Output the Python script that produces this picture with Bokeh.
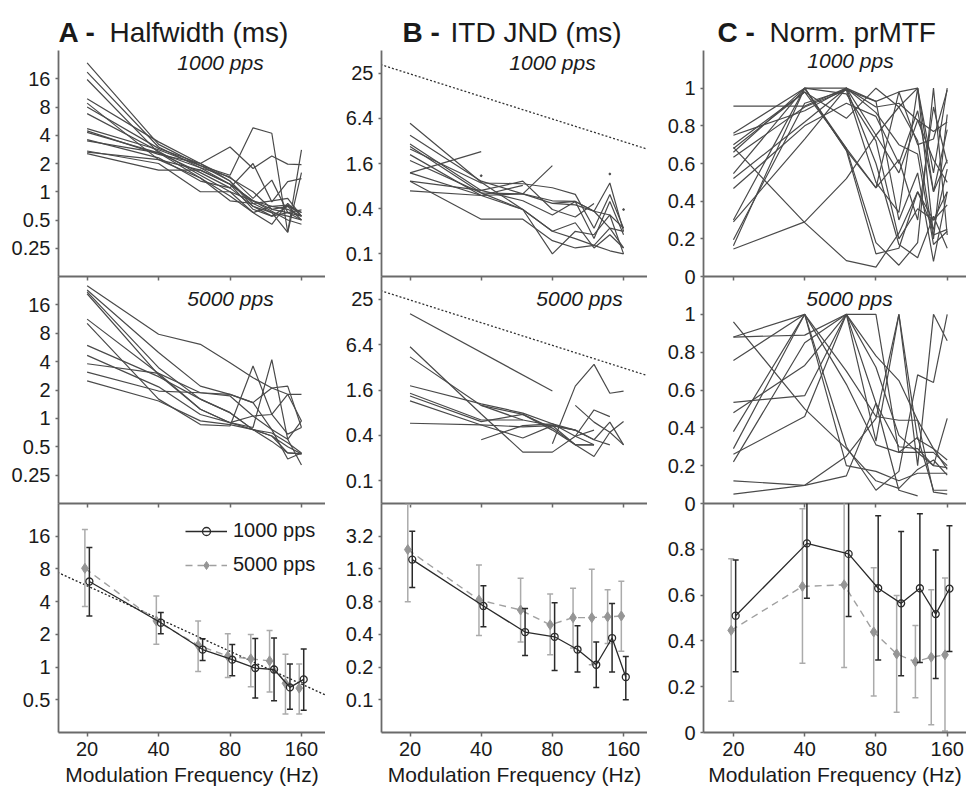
from bokeh.plotting import figure
from bokeh.models import FixedTicker, Range1d, Label, Legend, LegendItem, CustomLabelingPolicy
from bokeh.layouts import column, row
from bokeh.embed import file_html
from bokeh.resources import INLINE
from bokeh.core.properties import value

FONT = "Liberation Sans"
TXT = "#1a1a1a"
AXC = "#6a6a6a"
LINEC = "#4a4a4a"

# ---------------- data ----------------
freqs = [20, 40, 60, 80, 100, 120, 140, 160]
x_ticks = [20, 40, 80, 160]

hw_ticks = [0.25, 0.5, 1, 2, 4, 8, 16]
hw_ticks_bottom = [0.5, 1, 2, 4, 8, 16]
itd_ticks = [0.1, 0.4, 1.6, 6.4, 25.6]
itd_labels = ["0.1", "0.4", "1.6", "6.4", "25"]
itd_ticks_bottom = [0.1, 0.2, 0.4, 0.8, 1.6, 3.2]
mtf_ticks = [0, 0.2, 0.4, 0.6, 0.8, 1]
mtf_ticks_bottom = [0, 0.2, 0.4, 0.6, 0.8]

# individual listeners, halfwidth, 1000 pps
A1_lines = [
    [23.6, 3.2, 1.9, 1.3, 0.75, 0.6, 0.55, 0.5],
    [18.8, 3.0, 1.8, 1.2, 0.8, 0.65, 0.6, 0.55],
    [15.7, 2.6, 1.6, 1.1, 0.7, 0.6, 0.37, 2.8],
    [9.8, 3.4, 2.0, 1.4, 1.0, 0.65, 0.7, 0.6],
    [8.8, 2.2, 1.7, 1.2, 0.8, 0.62, 0.5, 0.45],
    [8.0, 2.9, 2.0, 1.3, 0.7, 0.55, 0.7, 0.5],
    [6.8, 2.7, 1.5, 1.0, 0.6, 0.45, 0.75, 0.55],
    [4.7, 2.8, 1.9, 1.5, 4.8, 4.2, 0.37, 1.6],
    [4.45, 2.5, 2.0, 3.0, 1.77, 2.4, 1.97, 1.95],
    [3.6, 2.3, 1.3, 1.1, 2.0, 0.78, 1.28, 1.38],
    [3.48, 2.6, 1.8, 1.44, 0.85, 1.33, 0.6, 0.64],
    [2.72, 2.0, 1.0, 1.0, 0.8, 0.7, 0.65, 0.55],
    [2.55, 1.7, 1.7, 1.2, 0.65, 0.55, 0.6, 0.5],
    [2.65, 2.2, 1.4, 0.9, 0.6, 0.7, 0.72, 0.6],
    [4.3, 2.6, 1.4, 0.8, 0.75, 0.8, 0.85, 0.55],
]
# halfwidth, 5000 pps
A2_lines = [
    [25.5, 7.8, 6.1, 3.9, 2.7, 2.1, 1.8, 1.8],
    [23.0, 5.0, 2.2, 1.8, 1.47, 2.1, 2.2, 0.8],
    [22.0, 3.45, 1.6, 1.15, 0.76, 0.57, 0.43, 0.42],
    [21.0, 2.9, 1.25, 0.9, 0.8, 4.2, 0.6, 0.94],
    [11.3, 3.0, 1.87, 1.73, 1.06, 0.76, 0.37, 0.43],
    [10.2, 1.6, 0.86, 0.83, 3.6, 1.1, 0.68, 0.8],
    [5.95, 2.77, 1.6, 1.15, 0.76, 0.65, 0.43, 0.42],
    [4.66, 2.16, 1.1, 0.9, 1.06, 1.1, 1.8, 0.94],
    [3.8, 3.0, 1.25, 0.9, 0.76, 0.65, 0.5, 0.42],
    [3.1, 1.95, 1.87, 1.8, 1.47, 0.76, 0.6, 0.32],
    [2.5, 1.53, 0.94, 0.86, 0.76, 0.7, 0.55, 0.43],
]
# ITD JND, 1000 pps
B1_lines = [
    [5.5, 0.9, 0.39, 0.2, 0.16, 0.13, 0.22, 0.12],
    [3.8, 0.93, 0.63, 0.47, 0.45, 0.37, 0.88, 0.2],
    [2.9, 0.7, 0.51, 0.33, 0.5, 0.16, 0.5, 0.18],
    [2.7, 0.65, 0.39, 0.1, 0.2, 0.18, 0.33, 0.1],
    [2.5, 0.88, 0.86, 0.76, 0.62, 0.22, 0.62, 0.22],
    [2.1, 0.6, 0.39, 0.2, 0.26, 0.12, 0.18, 0.12],
    [1.75, 0.65, 0.63, 0.51, 0.5, 0.37, 0.22, 0.2],
    [1.2, 2.3, None, None, None, None, None, None],
    [1.2, 0.6, 0.82, None, None, None, None, None],
    [0.93, 0.7, 0.93, 0.39, 0.31, 0.47, None, None],
    [0.69, 0.6, 0.63, 1.5, None, None, None, None],
    [0.93, 0.29, 0.29, 0.15, 0.12, 0.13, 0.11, 0.1],
    [None, None, None, 0.47, 0.5, 0.37, 0.33, 0.22],
]
B1_dots_x = [40, 140, 160]
B1_dots_y = [1.1, 1.16, 0.39]
# ITD JND, 5000 pps
B2_lines = [
    [16.4, None, None, 1.55, None, None, None, None],
    [6.0, 0.77, 0.24, 0.24, 0.39, 0.47, None, None],
    [4.4, 1.0, 0.76, 0.5, 0.3, 0.3, None, None],
    [1.82, 1.05, 0.79, 0.57, 0.39, 0.3, None, None],
    [1.45, 0.64, 0.64, 0.54, 0.47, 0.35, 0.3, None],
    [1.33, 0.61, 0.76, 0.47, 0.3, 0.21, 0.44, 0.61],
    [1.15, 0.55, 0.52, 0.54, 0.3, 0.3, None, None],
    [0.58, 0.55, 0.37, 0.54, 0.47, 0.35, 0.6, 0.3],
    [None, 0.35, 0.54, 0.57, 0.47, None, None, None],
    [None, 1.0, 0.64, None, None, None, None, None],
    [None, None, None, 0.31, 1.8, 3.5, 1.45, 1.55],
    [None, None, None, None, 1.0, 0.6, 0.44, 0.3],
    [None, None, None, None, 0.39, 0.87, 0.71, None],
]
# normalised prMTF, 1000 pps
C1_lines = [
    [0.905, 0.905, 1.0, 0.9, 0.92, 0.83, 0.62, 0.5],
    [0.76, 1.0, 0.67, 0.47, 0.62, 0.3, 0.9, 0.6],
    [0.75, 0.88, 1.0, 0.93, 0.98, 1.0, 0.55, 1.0],
    [0.70, 0.98, 0.84, 1.0, 0.9, 0.72, 0.2, 0.86],
    [0.686, 0.286, 0.084, 0.05, 0.23, 0.45, 0.3, 0.45],
    [0.66, 1.0, 1.0, 0.6, 0.17, 0.1, 0.32, 0.15],
    [0.633, 0.9, 0.99, 0.93, 0.3, 0.55, 0.08, 0.45],
    [0.546, 1.0, 0.67, 0.12, 0.15, 0.45, 0.25, 0.57],
    [0.52, 0.82, 1.0, 0.75, 0.55, 0.83, 0.77, 0.82],
    [0.467, 0.8, 0.92, 0.85, 0.6, 0.88, 0.45, 0.78],
    [0.3, 1.0, 0.97, 0.72, 0.2, 0.36, 0.3, 0.38],
    [0.195, 0.92, 0.99, 0.5, 0.34, 1.0, 0.22, 0.25],
    [0.163, 1.0, 0.68, 0.18, 0.06, 0.18, 1.0, 0.22],
    [0.146, 0.29, 0.52, 0.75, 0.9, 1.0, 0.45, 0.62],
    [0.68, 0.98, 0.68, 0.47, 0.98, 0.7, 0.73, 0.99],
    [0.29, 0.73, 1.0, 0.87, 0.7, 0.65, 0.17, 0.24],
]
# normalised prMTF, 5000 pps
C2_lines = [
    [0.96, 0.5, 0.29, 0.12, 0.08, 0.18, 0.23, 0.15],
    [0.88, 0.89, 1.0, 0.78, 0.65, 0.44, 0.29, 0.18],
    [0.756, 1.0, 0.2, 0.17, 0.12, 0.16, 0.16, 0.16],
    [0.535, 0.57, 1.0, 0.72, 0.36, 0.27, 0.27, 0.2],
    [0.48, 0.73, 1.0, 1.0, 0.27, 0.35, 0.07, 0.07],
    [0.38, 1.0, 0.3, 0.07, 0.17, 0.68, 0.64, 1.0],
    [0.29, 1.0, 0.7, 0.46, 0.44, 0.44, 0.06, 0.05],
    [0.26, 0.46, 1.0, 0.33, 1.0, 0.34, 0.29, 0.23],
    [0.22, 0.85, 1.0, 0.53, 0.07, 0.04, None, None],
    [0.12, 0.096, 0.146, 0.53, 0.3, 0.29, 0.2, 0.19],
    [0.05, 0.096, 0.25, 0.45, 1.0, 0.2, 1.0, 0.86],
    [0.88, 1.0, 0.63, 0.31, 0.27, 0.27, 0.2, 0.45],
]

# group means with error bars
A3_1000 = [6.13, 2.56, 1.45, 1.17, 0.98, 0.95, 0.65, 0.77]
A3_1000_hi = [12.6, 3.17, 1.82, 1.61, 1.83, 1.85, 1.07, 1.47]
A3_1000_lo = [2.95, 2.03, 1.15, 0.83, 0.52, 0.49, 0.41, 0.40]
A3_5000 = [8.1, 2.66, 1.59, 1.26, 1.19, 1.14, 0.71, 0.64]
A3_5000_hi = [18.4, 4.5, 2.66, 2.03, 1.99, 2.17, 1.31, 1.07]
A3_5000_lo = [3.6, 1.62, 0.91, 0.80, 0.66, 0.59, 0.37, 0.37]

B3_1000 = [1.95, 0.73, 0.42, 0.38, 0.29, 0.21, 0.37, 0.162]
B3_1000_hi = [3.56, 1.12, 0.69, 0.78, 0.48, 0.34, 0.77, 0.25]
B3_1000_lo = [1.08, 0.47, 0.256, 0.186, 0.18, 0.13, 0.18, 0.10]
B3_5000 = [2.41, 0.83, 0.67, 0.49, 0.57, 0.57, 0.58, 0.59]
B3_5000_hi = [6.3, 1.74, 1.31, 0.94, 1.06, 1.59, 1.03, 1.23]
B3_5000_lo = [0.8, 0.39, 0.34, 0.26, 0.30, 0.21, 0.33, 0.28]

C3_1000 = [0.51, 0.826, 0.78, 0.63, 0.564, 0.63, 0.517, 0.628]
C3_1000_hi = [0.753, 1.05, 1.05, 0.947, 0.878, 0.955, 0.797, 0.903]
C3_1000_lo = [0.265, 0.586, 0.507, 0.317, 0.248, 0.306, 0.236, 0.354]
C3_5000 = [0.446, 0.638, 0.645, 0.439, 0.343, 0.309, 0.329, 0.339]
C3_5000_hi = [0.759, 0.977, 1.05, 0.719, 0.598, 0.467, 0.623, 0.675]
C3_5000_lo = [0.137, 0.302, 0.284, 0.159, 0.088, 0.152, 0.034, 0.007]

# reference (dotted) lines
A_ref_x = [15.0, 202.0]
A_ref_y = [7.45, 0.553]
B_ref_x = [15.0, 202.0]
B_ref_y = [33.3, 2.48]

# ---------------- helpers ----------------
XR_AB = (15.15, 202.0)
XR_C = (14.95, 193.0)

HIDE_LABELS = """
if (indices != null && typeof indices.unset === "function") {
    for (const i of Array.from(indices)) { indices.unset(i) }
    return indices
}
return []
"""


def ov(ticks, labels=None):
    out = {}
    for i, t in enumerate(ticks):
        k = int(t) if float(t).is_integer() else float(t)
        if labels is not None:
            out[k] = labels[i]
        else:
            out[k] = str(int(t)) if float(t).is_integer() else str(t)
    return out


def style_axis(ax, tick_out):
    ax.axis_line_color = AXC
    ax.axis_line_width = 1.8
    ax.major_tick_line_color = AXC
    ax.major_tick_line_width = 1.5
    ax.minor_tick_line_color = None
    ax.major_tick_in = 0
    ax.major_tick_out = tick_out
    ax.major_label_text_font = FONT
    ax.major_label_text_font_size = "20px"
    ax.major_label_text_color = TXT


def make_fig(xr, y_type, yr, yticks, ylabels, fw, bl, fh, bb, bottom_labels):
    p = figure(frame_width=fw, frame_height=fh, x_axis_type="log", y_axis_type=y_type,
               x_range=Range1d(*xr), y_range=Range1d(*yr), output_backend="svg",
               toolbar_location=None, min_border_left=bl, min_border_right=0,
               min_border_top=0, min_border_bottom=bb)
    p.border_fill_color = None
    p.background_fill_color = None
    p.outline_line_color = None
    p.xgrid.visible = False
    p.ygrid.visible = False
    xa = p.xaxis[0]
    style_axis(xa, 4)
    xa.ticker = FixedTicker(ticks=x_ticks)
    if bottom_labels:
        xa.major_label_overrides = ov(x_ticks)
        xa.major_label_standoff = 5
        xa.axis_label = "Modulation Frequency (Hz)"
        xa.axis_label_text_font = FONT
        xa.axis_label_text_font_size = "21px"
        xa.axis_label_text_font_style = "normal"
        xa.axis_label_text_color = TXT
        xa.axis_label_standoff = 4
    else:
        xa.major_label_text_font_size = "0px"
        xa.major_label_standoff = 0
        xa.major_label_policy = CustomLabelingPolicy(code=HIDE_LABELS)
    ya = p.yaxis[0]
    style_axis(ya, 3)
    ya.major_label_standoff = 5
    ya.ticker = FixedTicker(ticks=yticks)
    ya.major_label_overrides = ov(yticks, ylabels)
    return p


def draw_lines(p, lines):
    xs, ys = [], []
    for ln in lines:
        px = [f for f, v in zip(freqs, ln) if v is not None]
        py = [v for v in ln if v is not None]
        xs.append(px)
        ys.append(py)
    p.multi_line(xs=xs, ys=ys, line_color=LINEC, line_width=1.2)


def panel_label(p, text, x, y):
    p.add_layout(Label(x=x, y=y, x_units="screen", y_units="screen", text=text,
                       text_font=FONT, text_font_size="21px", text_font_style="italic",
                       text_color=TXT, text_align="center", text_baseline="middle"))


def draw_means(p, m1, lo1, hi1, m5, lo5, hi5):
    x1 = [f * 1.022 for f in freqs]
    x5 = [f / 1.022 for f in freqs]
    g_bar = "#ababab"
    g_mk = "#959595"
    k = "#2a2a2a"
    # 5000 pps (grey)
    p.segment(x0=x5, y0=lo5, x1=x5, y1=hi5, line_color=g_bar, line_width=1.5)
    p.scatter(x=x5 + x5, y=lo5 + hi5, marker="dash", size=6, line_color=g_bar, line_width=1.5)
    l5 = p.line(x5, m5, line_color="#a0a0a0", line_width=1.4, line_dash="7 5")
    s5 = p.scatter(x5, m5, marker="diamond", size=10, fill_color=g_mk, line_color=g_mk)
    # 1000 pps (black)
    p.segment(x0=x1, y0=lo1, x1=x1, y1=hi1, line_color=k, line_width=1.5)
    p.scatter(x=x1 + x1, y=lo1 + hi1, marker="dash", size=6, line_color=k, line_width=1.5)
    l1 = p.line(x1, m1, line_color=k, line_width=1.3)
    s1 = p.scatter(x1, m1, marker="circle", size=7, fill_alpha=0, line_color=k, line_width=1.3)
    return (l1, s1), (l5, s5)


# ---------------- geometry ----------------
FW = [267, 266, 263]
BL = [58, 56, 56]
FH = [226, 227, 229]
BB = [12, 12, 61]

# row 1
a1 = make_fig(XR_AB, "log", (0.125, 32), hw_ticks, None, FW[0], BL[0], FH[0], BB[0], False)
draw_lines(a1, A1_lines)
panel_label(a1, "1000 pps", 162, 214)

b1 = make_fig(XR_AB, "log", (0.05, 51.2), itd_ticks, itd_labels, FW[1], BL[1], FH[0], BB[0], False)
b1.line(B_ref_x, B_ref_y, line_color="#333333", line_width=1.3, line_dash="2 2")
draw_lines(b1, B1_lines)
b1.scatter(B1_dots_x, B1_dots_y, size=1.8, color=LINEC)
panel_label(b1, "1000 pps", 171, 214)

c1 = make_fig(XR_C, "linear", (0, 1.2), mtf_ticks, None, FW[2], BL[2], FH[0], BB[0], False)
draw_lines(c1, C1_lines)
panel_label(c1, "1000 pps", 147, 216)

# row 2
a2 = make_fig(XR_AB, "log", (0.125, 32), hw_ticks, None, FW[0], BL[0], FH[1], BB[1], False)
draw_lines(a2, A2_lines)
panel_label(a2, "5000 pps", 172, 205)

b2 = make_fig(XR_AB, "log", (0.05, 51.2), itd_ticks, itd_labels, FW[1], BL[1], FH[1], BB[1], False)
b2.line(B_ref_x, B_ref_y, line_color="#333333", line_width=1.3, line_dash="2 2")
draw_lines(b2, B2_lines)
panel_label(b2, "5000 pps", 198, 205)

c2 = make_fig(XR_C, "linear", (0, 1.2), mtf_ticks, None, FW[2], BL[2], FH[1], BB[1], False)
draw_lines(c2, C2_lines)
panel_label(c2, "5000 pps", 146, 205)

# row 3
a3 = make_fig(XR_AB, "log", (0.25, 32), hw_ticks_bottom, None, FW[0], BL[0], FH[2], BB[2], True)
a3.line(A_ref_x, A_ref_y, line_color="#222222", line_width=1.3, line_dash="2 2")
r1000, r5000 = draw_means(a3, A3_1000, A3_1000_lo, A3_1000_hi, A3_5000, A3_5000_lo, A3_5000_hi)
leg = Legend(items=[LegendItem(label="1000 pps", renderers=list(r1000)),
                    LegendItem(label="5000 pps", renderers=list(r5000))],
             location=(127, 156), orientation="vertical")
leg.label_text_font = FONT
leg.label_text_font_size = "20px"
leg.label_text_color = TXT
leg.glyph_width = 42
leg.glyph_height = 20
leg.label_height = 20
leg.label_standoff = 6
leg.spacing = 11
leg.padding = 0
leg.margin = 0
leg.border_line_color = None
leg.background_fill_alpha = 0
a3.add_layout(leg)

b3 = make_fig(XR_AB, "log", (0.05, 6.4), itd_ticks_bottom, None, FW[1], BL[1], FH[2], BB[2], True)
draw_means(b3, B3_1000, B3_1000_lo, B3_1000_hi, B3_5000, B3_5000_lo, B3_5000_hi)

c3 = make_fig(XR_C, "linear", (0, 1.0), mtf_ticks_bottom, None, FW[2], BL[2], FH[2], BB[2], True)
draw_means(c3, C3_1000, C3_1000_lo, C3_1000_hi, C3_5000, C3_5000_lo, C3_5000_hi)

# header with panel titles
hdr = figure(width=966, height=50, x_range=(0, 966), y_range=(0, 50), output_backend="svg",
             toolbar_location=None, x_axis_location=None, y_axis_location=None, min_border=0)
hdr.outline_line_color = None
hdr.xgrid.visible = False
hdr.ygrid.visible = False
title_letters = ["A -", "B -", "C -"]
title_texts = ["Halfwidth (ms)", "ITD JND (ms)", "Norm. prMTF"]
hdr.text(x=[58, 402, 717], y=[18, 18, 18], text=title_letters, text_font=value(FONT),
         text_font_size="28px", text_font_style="bold", text_color=TXT,
         text_baseline="alphabetic", text_align="left")
hdr.text(x=[109, 450, 769], y=[18, 18, 18], text=title_texts, text_font=value(FONT),
         text_font_size="28px", text_color=TXT, text_baseline="alphabetic", text_align="left")

layout = column(
    hdr,
    row(a1, b1, c1),
    row(a2, b2, c2, margin=(-12, 0, 0, 0)),
    row(a3, b3, c3, margin=(-12, 0, 0, 0)),
)

open("out.html", "w").write(file_html(layout, INLINE))
